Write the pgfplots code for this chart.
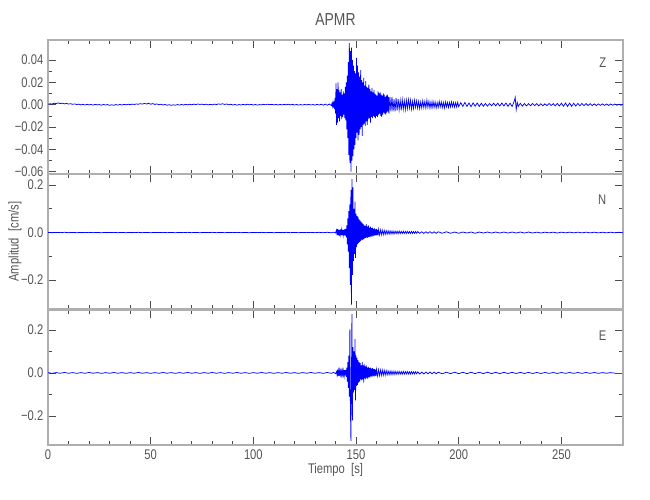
\documentclass[border=0pt]{standalone}
\usepackage{pgfplots}
\pgfplotsset{compat=1.18}
\usepackage{fontspec}
\setmainfont{Liberation Sans}[FakeStretch=0.8]

\definecolor{txt}{RGB}{85,85,85}
\definecolor{framegray}{RGB}{175,175,175}
\definecolor{seisblue}{RGB}{0,0,255}

\pgfplotsset{
  seis/.style={
    scale only axis, width=431.25pt,
    anchor=south west,
    xmin=0, xmax=280,
    xtick={0,50,...,250}, minor x tick num=4,
    minor y tick num=1,
    scaled y ticks=false,
    axis line style={framegray, line width=1.5pt},
    tick style={black!70, line width=0.5pt},
    major tick length=6pt, minor tick length=3pt,
    tick label style={font=\fontsize{10.5}{12}\selectfont, text=txt},
    label style={font=\fontsize{10.5}{12}\selectfont, text=txt},
    xticklabels={},
  },
  seisline/.style={seisblue, line width=0.55pt, no markers},
}
\tikzset{panel/.style={anchor=north east, font=\fontsize{10.5}{12}\selectfont, text=txt}}

\begin{document}
\begin{tikzpicture}
\path[use as bounding box] (0,0) rectangle (487.5pt,375pt);

% ---- Z ----
\begin{axis}[seis, at={(36pt,244.3pt)}, height=100.7pt,
    ymin=-0.0623, ymax=0.0579,
    ytick={-0.06,-0.04,-0.02,0,0.02,0.04},
    yticklabels={−0.06,−0.04,−0.02,0.00,0.02,0.04},
    title={APMR},
    title style={at={(axis description cs:0.5,1)}, anchor=center, yshift=9pt,
                 font=\fontsize{13}{15}\selectfont, text=txt}]
\addplot[seisline] coordinates {
(0,0.0004)(1,0.0008)(2,0.0006)(3,0.0013)(4,0.0009)(5,0.0016)(6,0.0010)(7,0.0013)(8,0.0007)(9,0.0011)
(10,0.0005)(11,0.0009)(12,0.0003)(13,0.0007)(14,0.0001)(15,0.0005)(16,-0.0002)(17,0.0004)(18,-0.0003)(19,0.0003)
(20,-0.0002)(21,0.0002)(22,-0.0004)(23,0.0003)(24,-0.0002)(25,0.0001)(26,-0.0005)(27,0.0002)(28,-0.0003)(29,0.0001)
(30,-0.0006)(31,-0.0001)(32,-0.0005)(33,0.0001)(34,-0.0004)(35,0.0002)(36,-0.0003)(37,0.0003)(38,-0.0001)(39,0.0004)
(40,0.0000)(41,0.0005)(42,0.0002)(43,0.0006)(44,0.0004)(45,0.0009)(46,0.0005)(47,0.0011)(48,0.0006)(49,0.0012)
(50,0.0004)(51,0.0010)(52,0.0002)(53,0.0007)(54,-0.0001)(55,0.0004)(56,-0.0003)(57,0.0002)(58,-0.0005)(59,0.0000)
(60,-0.0006)(61,-0.0001)(62,-0.0005)(63,0.0001)(64,-0.0004)(65,0.0002)(66,-0.0003)(67,0.0003)(68,-0.0002)(69,0.0004)
(70,-0.0001)(71,0.0005)(72,0.0001)(73,0.0006)(74,0.0002)(75,0.0005)(76,0.0000)(77,0.0004)(78,-0.0002)(79,0.0003)
(80,-0.0001)(81,0.0005)(82,0.0001)(83,0.0007)(84,0.0003)(85,0.0008)(86,0.0002)(87,0.0006)(88,-0.0001)(89,0.0004)
(90,-0.0003)(91,0.0002)(92,-0.0004)(93,0.0001)(94,-0.0003)(95,0.0003)(96,-0.0002)(97,0.0004)(98,-0.0001)(99,0.0003)
(100,-0.0003)(101,0.0002)(102,-0.0004)(103,0.0001)(104,-0.0002)(105,0.0003)(106,-0.0001)(107,0.0004)(108,0.0000)(109,0.0003)
(110,-0.0002)(111,0.0002)(112,-0.0003)(113,0.0002)(114,-0.0002)(115,0.0003)(116,-0.0001)(117,0.0004)(118,-0.0002)(119,0.0003)
(120,-0.0003)(121,0.0002)(122,-0.0004)(123,0.0001)(124,-0.0003)(125,0.0002)(126,-0.0002)(127,0.0003)(128,-0.0003)(129,0.0002)
(130,-0.0004)(131,0.0003)(132,-0.0003)(133,0.0004)(134,-0.0004)(135,0.0005)(136,-0.0005)(137,0.0006)(138,-0.0008)
(138.25,0.0010)(138.5,-0.0015)(138.75,0.0020)(139,-0.0025)(139.25,0.0030)(139.5,-0.0040)(139.75,0.0060)(140,-0.0080)
(140.25,0.0190)(140.5,-0.0180)(140.75,0.0140)(141,-0.0160)(141.25,0.0200)(141.5,-0.0120)(141.75,0.0130)(142,-0.0150)
(142.25,0.0110)(142.5,-0.0100)(142.75,0.0140)(143,-0.0130)(143.25,0.0090)(143.5,-0.0110)(143.75,0.0120)(144,-0.0090)
(144.25,0.0100)(144.5,-0.0120)(144.75,0.0160)(145,-0.0140)(145.25,0.0200)(145.5,-0.0220)(145.75,0.0260)(146,-0.0300)
(146.25,0.0380)(146.5,-0.0450)(146.75,0.0550)(147,-0.0520)(147.25,0.0480)(147.5,-0.0600)(147.75,0.0510)(148,-0.0500)
(148.25,0.0400)(148.5,-0.0460)(148.75,0.0350)(149,-0.0400)(149.25,0.0300)(149.5,-0.0360)(149.75,0.0280)(150,-0.0300)
(150.25,0.0420)(150.5,-0.0250)(150.75,0.0350)(151,-0.0320)(151.25,0.0290)(151.5,-0.0270)(151.75,0.0250)(152,-0.0220)
(152.25,0.0310)(152.5,-0.0200)(152.75,0.0220)(153,-0.0280)(153.25,0.0200)(153.5,-0.0180)(153.75,0.0240)(154,-0.0170)
(154.25,0.0170)(154.5,-0.0190)(154.75,0.0210)(155,-0.0150)(155.25,0.0160)(155.5,-0.0180)(155.75,0.0150)(156,-0.0130)
(156.25,0.0180)(156.5,-0.0120)(156.75,0.0140)(157,-0.0160)(157.25,0.0120)(157.5,-0.0110)(157.75,0.0150)(158,-0.0120)
(158.25,0.0110)(158.5,-0.0100)(158.75,0.0130)(159,-0.0110)(159.25,0.0100)(159.5,-0.0120)(159.75,0.0090)(160,-0.0100)
(160.25,0.0080)(160.5,-0.0110)(160.75,0.0120)(161,-0.0090)(161.25,0.0100)(161.5,-0.0080)(161.75,0.0110)(162,-0.0100)
(162.25,0.0090)(162.5,-0.0110)(162.75,0.0080)(163,-0.0090)(163.25,0.0100)(163.5,-0.0070)(163.75,0.0090)(164,-0.0080)
(164.25,0.0070)(164.5,-0.0090)(164.75,0.0080)(165,-0.0070)(165.25,0.0090)(165.5,-0.0060)(165.75,0.0070)(166,-0.0080)
(166.5,0.0070)(167,-0.0060)(167.5,0.0070)(168,-0.0060)(168.5,0.0050)(169,-0.0060)(169.5,0.0060)(170,-0.0050)
(170.5,0.0050)(171,-0.0045)(171.5,0.0040)(172,-0.0050)(172.5,0.0045)(173,-0.0040)(173.5,0.0035)(174,-0.0045)
(174.5,0.0040)(175,-0.0035)(175.5,0.0045)(176,-0.0030)(176.5,0.0040)(177,-0.0040)(177.5,0.0030)(178,-0.0035)
(178.5,0.0040)(179,-0.0025)(179.5,0.0035)(180,-0.0030)(180.5,0.0030)(181,-0.0035)(181.5,0.0025)(182,-0.0030)
(182.5,0.0035)(183,-0.0025)(183.5,0.0030)(184,-0.0030)(184.5,0.0040)(185,-0.0025)(185.5,0.0030)(186,-0.0030)
(186.5,0.0025)(187,-0.0030)(187.5,0.0030)(188,-0.0025)(188.5,0.0025)(189,-0.0030)(189.5,0.0020)(190,-0.0025)
(190.5,0.0030)(191,-0.0020)(191.5,0.0025)(192,-0.0025)(192.5,0.0020)(193,-0.0030)(193.5,0.0025)(194,-0.0020)
(194.5,0.0020)(195,-0.0025)(195.5,0.0020)(196,-0.0020)(196.5,0.0025)(197,-0.0018)(197.5,0.0020)(198,-0.0022)
(198.5,0.0018)(199,-0.0020)(199.5,0.0022)(200,-0.0018)
(201,0.0018)(202,-0.0016)(203,0.0020)(204,-0.0016)(205,0.0015)(206,-0.0018)(207,0.0016)(208,-0.0014)(209,0.0015)(210,-0.0016)
(211,0.0013)(212,-0.0014)(213,0.0010)(214,-0.0013)(215,0.0010)(216,-0.0010)(217,0.0013)(218,-0.0010)(219,0.0013)(220,-0.0012)
(221,0.0015)(222,-0.0012)(223,0.0015)(224,-0.0015)(225,0.0013)(226,-0.0016)(227,0.0030)(227.5,0.0066)(228,-0.0044)(228.5,0.0020)
(229,-0.0015)(230,0.0012)(231,-0.0013)(232,0.0010)(233,-0.0011)(234,0.0009)(235,-0.0010)(236,0.0011)(237,-0.0009)(238,0.0010)
(239,-0.0011)(240,0.0009)(241,-0.0010)(242,0.0008)(243,-0.0009)(244,0.0010)(245,-0.0008)(246,0.0009)(247,-0.0010)(248,0.0011)
(249,-0.0012)(250,0.0013)(251,-0.0014)(252,0.0015)(253,-0.0016)(254,0.0014)(255,-0.0015)(256,0.0013)(257,-0.0012)(258,0.0011)
(259,-0.0010)(260,0.0011)(261,-0.0009)(262,0.0010)(263,-0.0008)(264,0.0009)(265,-0.0008)(266,0.0007)(267,-0.0008)(268,0.0007)
(269,-0.0006)(270,0.0007)(271,-0.0007)(272,0.0006)(273,-0.0007)(274,0.0006)(275,-0.0005)(276,0.0006)(277,-0.0005)(278,0.0004)
(279,-0.0005)(280,0.0003)
};
\node[panel] at (rel axis cs:1,1) [xshift=-9pt, yshift=-10pt] {Z};
\end{axis}

% ---- N ----
\begin{axis}[seis, at={(36pt,143.25pt)}, height=101pt,
    ymin=-0.322, ymax=0.245,
    ytick={-0.2,0,0.2},
    yticklabels={−0.2,0.0,0.2},
    ylabel={Amplitud\ \ [cm/s]},
    ylabel style={at={(axis description cs:-0.0574,0.5)}, anchor=center}]
\addplot[seisline] coordinates {
(0,0.0005)(2,-0.0008)(4,0.0006)(6,-0.0005)(8,0.0009)(10,-0.0006)(12,0.0005)(14,-0.0007)(16,0.0006)(18,-0.0005)
(20,0.0007)(22,-0.0006)(24,0.0005)(26,-0.0008)(28,0.0006)(30,-0.0005)(32,0.0007)(34,-0.0006)(36,0.0005)(38,-0.0007)
(40,0.0006)(42,-0.0005)(44,0.0008)(46,-0.0006)(48,0.0005)(50,-0.0007)(52,0.0006)(54,-0.0005)(56,0.0007)(58,-0.0006)
(60,0.0005)(62,-0.0008)(64,0.0006)(66,-0.0005)(68,0.0007)(70,-0.0006)(72,0.0005)(74,-0.0007)(76,0.0006)(78,-0.0005)
(80,0.0008)(82,-0.0006)(84,0.0005)(86,-0.0007)(88,0.0006)(90,-0.0005)(92,0.0007)(94,-0.0006)(96,0.0005)(98,-0.0008)
(100,0.0006)(102,-0.0005)(104,0.0007)(106,-0.0006)(108,0.0005)(110,-0.0007)(112,0.0006)(114,-0.0005)(116,0.0008)(118,-0.0006)
(120,0.0005)(122,-0.0007)(124,0.0006)(126,-0.0005)(128,0.0007)(130,-0.0006)(132,0.0008)(134,-0.0007)(136,0.0009)(138,-0.0010)
(139,0.0015)(140,-0.0020)
(140.5,0.0100)(140.75,-0.0120)(141,0.0140)(141.25,-0.0100)(141.5,0.0120)(141.75,-0.0140)(142,0.0110)(142.25,-0.0090)
(142.5,0.0130)(142.75,-0.0120)(143,0.0100)(143.25,-0.0110)(143.5,0.0120)(143.75,-0.0100)(144,0.0110)(144.25,-0.0120)
(144.5,0.0140)(144.75,-0.0130)(145,0.0150)(145.25,-0.0200)(145.5,0.0300)(145.75,-0.0500)(146,0.0600)(146.25,-0.0800)
(146.5,0.0900)(146.75,-0.1500)(147,0.1200)(147.25,-0.2200)(147.5,0.1800)(147.75,-0.3040)(148,0.2250)(148.25,-0.1780)
(148.5,0.1900)(148.75,-0.1200)(149,0.1000)(149.25,-0.0900)(149.5,0.1300)(149.75,-0.1070)(150,0.0800)(150.25,-0.0600)
(150.5,0.0700)(150.75,-0.0500)(151,0.0670)(151.25,-0.0450)(151.5,0.0550)(151.75,-0.0400)(152,0.0500)(152.25,-0.0350)
(152.5,0.0450)(152.75,-0.0300)(153,0.0400)(153.25,-0.0320)(153.5,0.0350)(153.75,-0.0280)(154,0.0300)(154.25,-0.0250)
(154.5,0.0280)(154.75,-0.0220)(155,0.0350)(155.25,-0.0200)(155.5,0.0250)(155.75,-0.0220)(156,0.0300)(156.25,-0.0180)
(156.5,0.0200)(156.75,-0.0200)(157,0.0250)(157.25,-0.0150)(157.5,0.0180)(157.75,-0.0180)(158,0.0200)(158.25,-0.0130)
(158.5,0.0150)(158.75,-0.0150)(159,0.0170)(159.25,-0.0110)(159.5,0.0130)(159.75,-0.0130)(160,0.0150)(160.25,-0.0100)
(160.5,0.0110)(160.75,-0.0120)(161,0.0130)(161.5,-0.0100)(162,0.0110)(162.5,-0.0100)(163,0.0100)(163.5,-0.0090)
(164,0.0090)(164.5,-0.0080)(165,0.0080)(165.5,-0.0070)(166,0.0075)(166.5,-0.0070)(167,0.0070)(167.5,-0.0060)
(168,0.0065)(168.5,-0.0060)(169,0.0060)(169.5,-0.0050)(170,0.0055)(170.5,-0.0050)(171,0.0060)(171.5,-0.0045)
(172,0.0050)(172.5,-0.0045)(173,0.0050)(173.5,-0.0040)(174,0.0045)(174.5,-0.0040)(175,0.0050)(175.5,-0.0035)
(176,0.0040)(176.5,-0.0040)(177,0.0045)(177.5,-0.0035)(178,0.0040)(178.5,-0.0035)(179,0.0040)(179.5,-0.0030)
(180,0.0040)(181,-0.0035)(182,0.0030)(183,-0.0035)(184,0.0030)
(185,-0.0030)(186,0.0035)(187,-0.0030)(188,0.0030)(189,-0.0035)(190,0.0030)(192,-0.0030)(194,0.0030)(196,-0.0030)(198,0.0020)
(200,-0.0030)(202,0.0020)(204,-0.0020)(206,0.0020)(208,-0.0030)(210,0.0020)(212,-0.0020)(214,0.0020)(216,-0.0020)(218,0.0020)
(220,-0.0020)(222,0.0020)(224,-0.0020)(226,0.0020)(228,-0.0020)(230,0.0020)(232,-0.0020)(234,0.0020)(236,-0.0020)(238,0.0015)
(240,-0.0020)(242,0.0015)(244,-0.0015)(246,0.0015)(248,-0.0020)(250,0.0015)(252,-0.0015)(254,0.0015)(256,-0.0015)(258,0.0015)
(260,-0.0015)(262,0.0015)(264,-0.0015)(266,0.0015)(268,-0.0015)(270,0.0012)(272,-0.0012)(274,0.0012)(276,-0.0012)(278,0.0010)
(280,-0.0010)
};
\node[panel] at (rel axis cs:1,1) [xshift=-9pt, yshift=-12pt] {N};
\end{axis}

% ---- E ----
\begin{axis}[seis, at={(36pt,41.25pt)}, height=101.5pt,
    ymin=-0.335, ymax=0.294,
    ytick={-0.2,0,0.2},
    yticklabels={−0.2,0.0,0.2},
    xticklabels={0,50,100,150,200,250},
    xlabel={Tiempo\ \ [s]},
    xlabel style={at={(axis description cs:0.5,0)}, anchor=center, yshift=-19pt}]
\addplot[seisline] coordinates {
(0,0.0015)(2,-0.0020)(4,0.0015)(6,-0.0015)(8,0.0020)(10,-0.0015)(12,0.0015)(14,-0.0020)(16,0.0015)(18,-0.0015)
(20,0.0020)(22,-0.0015)(24,0.0015)(26,-0.0020)(28,0.0015)(30,-0.0015)(32,0.0020)(34,-0.0015)(36,0.0015)(38,-0.0020)
(40,0.0015)(42,-0.0015)(44,0.0020)(46,-0.0015)(48,0.0015)(50,-0.0020)(52,0.0015)(54,-0.0015)(56,0.0020)(58,-0.0015)
(60,0.0015)(62,-0.0020)(64,0.0015)(66,-0.0015)(68,0.0020)(70,-0.0015)(72,0.0015)(74,-0.0020)(76,0.0015)(78,-0.0015)
(80,0.0020)(82,-0.0015)(84,0.0015)(86,-0.0020)(88,0.0015)(90,-0.0015)(92,0.0020)(94,-0.0015)(96,0.0015)(98,-0.0020)
(100,0.0015)(102,-0.0015)(104,0.0020)(106,-0.0015)(108,0.0015)(110,-0.0020)(112,0.0015)(114,-0.0015)(116,0.0020)(118,-0.0015)
(120,0.0015)(122,-0.0020)(124,0.0015)(126,-0.0015)(128,0.0020)(130,-0.0015)(132,0.0015)(134,-0.0020)(136,0.0020)(138,-0.0020)
(139,0.0025)(140,-0.0030)
(140.5,0.0060)(140.75,-0.0100)(141,0.0150)(141.25,-0.0120)(141.5,0.0100)(141.75,-0.0140)(142,0.0120)(142.25,-0.0080)
(142.5,0.0100)(142.75,-0.0110)(143,0.0090)(143.25,-0.0100)(143.5,0.0110)(143.75,-0.0090)(144,0.0100)(144.25,-0.0120)
(144.5,0.0130)(144.75,-0.0110)(145,0.0140)(145.25,-0.0180)(145.5,0.0250)(145.75,-0.0400)(146,0.0500)(146.25,-0.0700)
(146.5,0.0800)(146.75,-0.1100)(147,0.2030)(147.25,-0.1500)(147.5,-0.3160)(147.75,-0.0500)(148,0.2730)(148.25,-0.2200)
(148.5,0.1200)(148.75,-0.0900)(149,0.1000)(149.25,-0.0800)(149.5,0.1570)(149.75,-0.1270)(150,0.0800)(150.25,-0.0600)
(150.5,0.0700)(150.75,-0.0550)(151,0.0600)(151.25,-0.0450)(151.5,0.0500)(151.75,-0.0400)(152,0.0450)(152.25,-0.0300)
(152.5,0.0350)(152.75,-0.0350)(153,0.0500)(153.25,-0.0300)(153.5,0.0350)(153.75,-0.0450)(154,0.0400)(154.25,-0.0250)
(154.5,0.0300)(154.75,-0.0300)(155,0.0350)(155.25,-0.0220)(155.5,0.0250)(155.75,-0.0280)(156,0.0280)(156.25,-0.0180)
(156.5,0.0220)(156.75,-0.0220)(157,0.0240)(157.25,-0.0150)(157.5,0.0200)(157.75,-0.0200)(158,0.0220)(158.25,-0.0130)
(158.5,0.0170)(158.75,-0.0170)(159,0.0180)(159.25,-0.0120)(159.5,0.0150)(159.75,-0.0150)(160,0.0160)(160.5,-0.0140)
(161,0.0150)(161.5,-0.0130)(162,0.0140)(162.5,-0.0120)(163,0.0130)(163.5,-0.0110)(164,0.0120)(164.5,-0.0100)
(165,0.0110)(165.5,-0.0090)(166,0.0090)(166.5,-0.0085)(167,0.0090)(167.5,-0.0080)(168,0.0080)(168.5,-0.0075)
(169,0.0080)(169.5,-0.0070)(170,0.0070)(170.5,-0.0065)(171,0.0070)(171.5,-0.0060)(172,0.0060)(172.5,-0.0060)
(173,0.0070)(173.5,-0.0055)(174,0.0060)(174.5,-0.0050)(175,0.0060)(175.5,-0.0050)(176,0.0050)(176.5,-0.0050)
(177,0.0060)(177.5,-0.0045)(178,0.0050)(178.5,-0.0045)(179,0.0050)(179.5,-0.0045)(180,0.0050)
(181,-0.0050)(182,0.0040)(183,-0.0050)(184,0.0040)
(185,-0.0040)(186,0.0040)(187,-0.0040)(188,0.0040)(189,-0.0040)(190,0.0035)(192,-0.0040)(194,0.0035)(196,-0.0035)(198,0.0035)
(200,-0.0035)(202,0.0030)(204,-0.0035)(206,0.0030)(208,-0.0030)(210,0.0030)(212,-0.0030)(214,0.0030)(216,-0.0030)(218,0.0025)
(220,-0.0030)(222,0.0025)(224,-0.0025)(226,0.0025)(228,-0.0025)(230,0.0025)(232,-0.0025)(234,0.0025)(236,-0.0025)(238,0.0020)
(240,-0.0025)(242,0.0020)(244,-0.0020)(246,0.0020)(248,-0.0025)(250,0.0020)(252,-0.0020)(254,0.0020)(256,-0.0020)(258,0.0020)
(260,-0.0020)(262,0.0020)(264,-0.0020)(266,0.0020)(268,-0.0020)(270,0.0015)(272,-0.0015)(274,0.0015)(276,-0.0010)
};
\node[panel] at (rel axis cs:1,1) [xshift=-9pt, yshift=-12pt] {E};
\end{axis}
\end{tikzpicture}
\end{document}
